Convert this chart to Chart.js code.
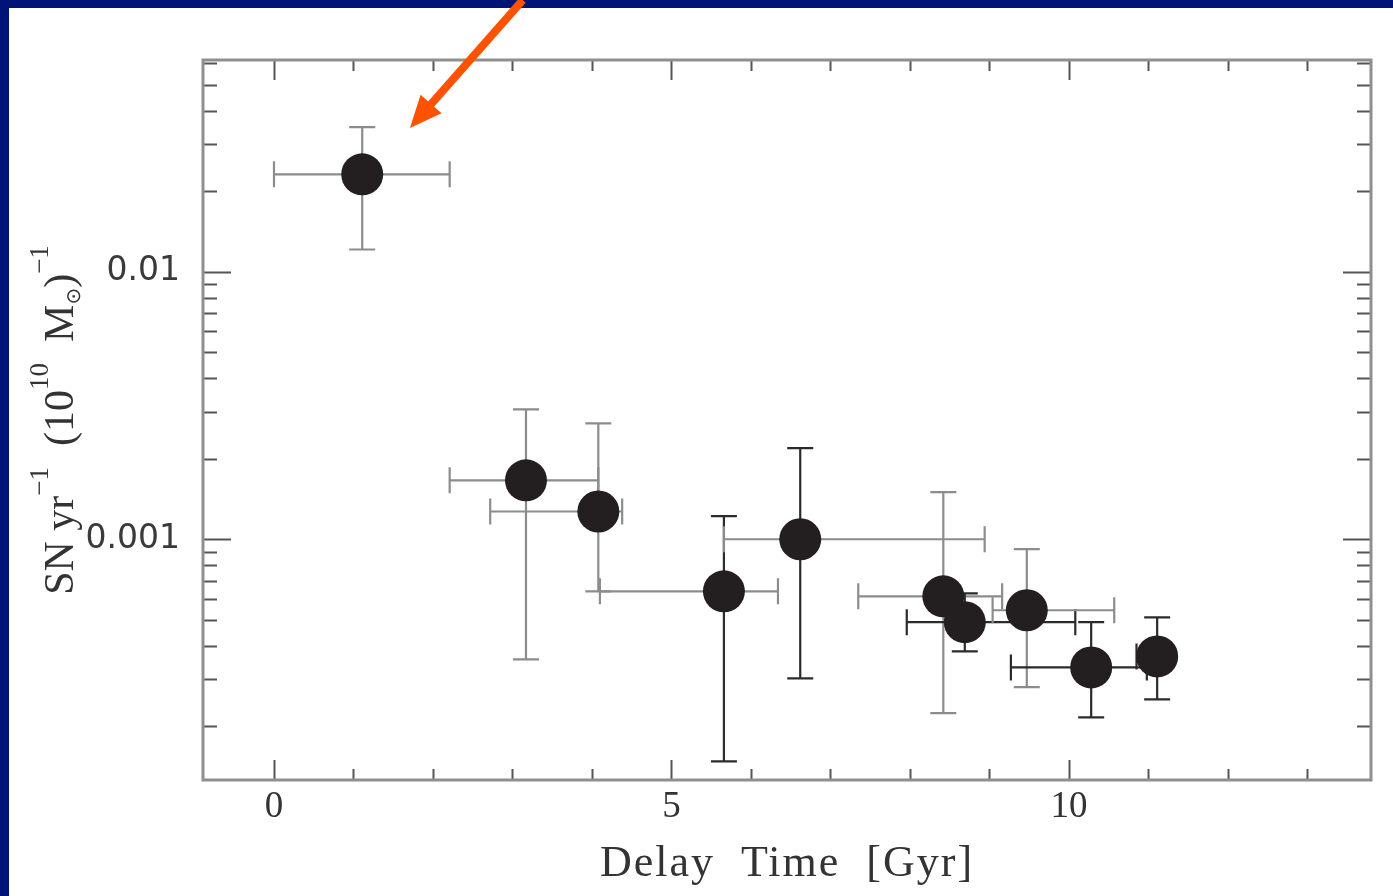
<!DOCTYPE html>
<html>
<head>
<meta charset="utf-8">
<script src="https://cdn.jsdelivr.net/npm/chart.js@4.4.1/dist/chart.umd.min.js"></script>
<style>
  html, body { margin: 0; padding: 0; background: #ffffff; overflow: hidden; }
  canvas { display: block; }
</style>
</head>
<body>
<canvas id="c" width="1393" height="896"></canvas>
<script>
// SN Ia rate per unit stellar mass against delay time, with asymmetric error bars
const delayTime = [1.11, 3.17, 4.08, 5.66, 6.62, 8.42, 8.69, 9.47, 10.28, 11.11];
const snRate    = [0.0231, 0.00166, 0.00127, 0.000639, 0.00100, 0.000612, 0.000490, 0.000543, 0.000332, 0.000365];
const timeLow   = [0.00, 2.21, 2.72, 4.10, 5.66, 7.35, 7.96, 9.04, 9.27, 10.85];
const timeHigh  = [2.21, 4.08, 4.38, 6.34, 8.94, 9.16, 10.08, 10.57, 10.98, 11.25];
const rateLow   = [0.0121, 0.000356, 0.000639, 0.000148, 0.000302, 0.000224, 0.000381, 0.000280, 0.000216, 0.000252];
const rateHigh  = [0.0347, 0.00306, 0.00271, 0.00122, 0.00219, 0.00150, 0.000628, 0.000918, 0.000490, 0.000511];

// axis ranges and tick labels
const xRange = [-0.893, 13.80];
const yRange = [0.000126, 0.0618];
const xTickLabels = ['0', '5', '10'];
const yTickLabels = ['0.001', '0.01'];

// axis titles; the y title is split into runs of normal, raised and lowered text
const xTitle = 'Delay Time [Gyr]';
const yTitleRuns = [
  ['SN', 0], [' ', 0], ['yr', 0], ['\u22121', 1], ['  ', 0],
  ['(10', 0], ['10', 1], ['  ', 0], ['M', 0], ['\u2299', -1], [')', 0], ['\u22121', 1]
];

// annotation arrow, in data units (tail, tip)
const arrowTail = [3.13, 0.1035];
const arrowTip  = [1.71, 0.0344];

// error bar shades (x bar, y bar) for each point
const GREY = '#8c8c8c', DARK = '#2b2b2b';
const xBarShade = [GREY, GREY, GREY, GREY, GREY, GREY, DARK, GREY, DARK, DARK];
const yBarShade = [GREY, GREY, GREY, DARK, DARK, GREY, DARK, GREY, DARK, DARK];

const points = delayTime.map((t, i) => ({ x: t, y: snRate[i] }));

function xTickValues() {
  const v = [];
  for (let k = Math.ceil(xRange[0]); k <= Math.floor(xRange[1]); k++) v.push(k);
  return v;
}
function yTickValues() {
  const v = [];
  for (let e = -5; e <= 0; e++) {
    for (let m = 1; m <= 9; m++) {
      const val = m * Math.pow(10, e);
      if (val >= yRange[0] && val <= yRange[1]) v.push(+val.toPrecision(3));
    }
  }
  return v;
}

const TITLE_COLOR = '#333333';
const RUN_FONT = {
  '0':  { font: '42px "Liberation Serif"', dy: 0 },
  '1':  { font: '27px "Liberation Serif"', dy: -25 },
  '-1': { font: '20px "DejaVu Sans"', dy: 7 }
};

const decorations = {
  id: 'decorations',
  beforeDraw(chart) {
    const { ctx, width, height } = chart;
    ctx.save();
    ctx.fillStyle = '#ffffff';
    ctx.fillRect(0, 0, width, height);
    ctx.fillStyle = '#001478';
    ctx.fillRect(0, 0, width, 8);
    ctx.fillRect(0, 0, 9, height);
    ctx.restore();
  },
  beforeDatasetsDraw(chart) {
    const { ctx, chartArea: a } = chart;
    const xs = chart.scales.x, ys = chart.scales.y;
    ctx.save();

    // inward tick marks on all four sides
    ctx.strokeStyle = '#555555';
    ctx.lineWidth = 2;
    xs.ticks.forEach(t => {
      const px = Math.round(xs.getPixelForValue(t.value)) + 0.5;
      const len = (t.value % 5 === 0) ? 20 : 11;
      ctx.beginPath();
      ctx.moveTo(px, a.bottom); ctx.lineTo(px, a.bottom - len);
      ctx.moveTo(px, a.top); ctx.lineTo(px, a.top + len);
      ctx.stroke();
    });
    ys.ticks.forEach(t => {
      const py = Math.round(ys.getPixelForValue(t.value)) + 0.5;
      const major = Math.abs(Math.log10(t.value) - Math.round(Math.log10(t.value))) < 1e-6;
      const len = major ? 28 : 14;
      ctx.beginPath();
      ctx.moveTo(a.left, py); ctx.lineTo(a.left + len, py);
      ctx.moveTo(a.right, py); ctx.lineTo(a.right - len, py);
      ctx.stroke();
    });

    // frame
    ctx.strokeStyle = '#8f8f8f';
    ctx.lineWidth = 3;
    ctx.strokeRect(a.left, a.top, a.right - a.left, a.bottom - a.top);

    // error bars
    const cap = 13;
    ctx.lineWidth = 2.2;
    delayTime.forEach((t, i) => {
      const px = xs.getPixelForValue(t);
      const py = ys.getPixelForValue(snRate[i]);
      const x0 = xs.getPixelForValue(timeLow[i]);
      const x1 = xs.getPixelForValue(timeHigh[i]);
      const y0 = ys.getPixelForValue(rateLow[i]);
      const y1 = ys.getPixelForValue(rateHigh[i]);
      ctx.strokeStyle = xBarShade[i];
      ctx.beginPath();
      ctx.moveTo(x0, py); ctx.lineTo(x1, py);
      ctx.moveTo(x0, py - cap); ctx.lineTo(x0, py + cap);
      ctx.moveTo(x1, py - cap); ctx.lineTo(x1, py + cap);
      ctx.stroke();
      ctx.strokeStyle = yBarShade[i];
      ctx.beginPath();
      ctx.moveTo(px, y0); ctx.lineTo(px, y1);
      ctx.moveTo(px - cap, y0); ctx.lineTo(px + cap, y0);
      ctx.moveTo(px - cap, y1); ctx.lineTo(px + cap, y1);
      ctx.stroke();
    });
    ctx.restore();
  },
  afterDraw(chart) {
    const { ctx, chartArea: a } = chart;
    const xs = chart.scales.x, ys = chart.scales.y;

    // x axis title
    ctx.save();
    ctx.fillStyle = TITLE_COLOR;
    ctx.font = '44px "Liberation Serif"';
    ctx.letterSpacing = '2px';
    ctx.textAlign = 'center';
    ctx.textBaseline = 'alphabetic';
    ctx.fillText(xTitle.replace(/ /g, '  '), (a.left + a.right) / 2, 876);
    ctx.restore();

    // y axis title, rotated, with raised and lowered runs
    ctx.save();
    ctx.fillStyle = TITLE_COLOR;
    ctx.textBaseline = 'alphabetic';
    ctx.textAlign = 'left';
    const widths = yTitleRuns.map(([s, k]) => { ctx.font = RUN_FONT[String(k)].font; return ctx.measureText(s).width; });
    const total = widths.reduce((p, w) => p + w, 0);
    ctx.translate(73, (a.top + a.bottom) / 2);
    ctx.rotate(-Math.PI / 2);
    let cx = -total / 2;
    yTitleRuns.forEach(([s, k], i) => {
      const f = RUN_FONT[String(k)];
      ctx.font = f.font;
      ctx.fillText(s, cx, f.dy);
      cx += widths[i];
    });
    ctx.restore();

    // annotation arrow
    const tx = xs.getPixelForValue(arrowTail[0]), ty = ys.getPixelForValue(arrowTail[1]);
    const hx = xs.getPixelForValue(arrowTip[0]),  hy = ys.getPixelForValue(arrowTip[1]);
    const ang = Math.atan2(hy - ty, hx - tx);
    const headLen = 32, headHalf = 14;
    const bx = hx - headLen * Math.cos(ang), by = hy - headLen * Math.sin(ang);
    ctx.save();
    ctx.strokeStyle = '#ff5200';
    ctx.fillStyle = '#ff5200';
    ctx.lineWidth = 8;
    ctx.beginPath();
    ctx.moveTo(tx, ty); ctx.lineTo(bx + 4 * Math.cos(ang), by + 4 * Math.sin(ang));
    ctx.stroke();
    ctx.beginPath();
    ctx.moveTo(hx, hy);
    ctx.lineTo(bx + headHalf * Math.sin(ang), by - headHalf * Math.cos(ang));
    ctx.lineTo(bx - headHalf * Math.sin(ang), by + headHalf * Math.cos(ang));
    ctx.closePath();
    ctx.fill();
    ctx.restore();
  }
};

new Chart(document.getElementById('c'), {
  type: 'scatter',
  data: {
    datasets: [{
      data: points,
      pointRadius: 21,
      pointHoverRadius: 21,
      pointBackgroundColor: '#231f20',
      pointBorderWidth: 0,
      showLine: false
    }]
  },
  options: {
    responsive: false,
    animation: false,
    devicePixelRatio: 1,
    layout: { padding: { top: 60, right: 22, bottom: 0, left: 0 } },
    plugins: { legend: { display: false }, tooltip: { enabled: false } },
    scales: {
      x: {
        type: 'linear',
        min: xRange[0],
        max: xRange[1],
        afterBuildTicks(scale) { scale.ticks = xTickValues().map(v => ({ value: v })); },
        afterFit(scale) { scale.height = 116; },
        grid: { display: false, drawTicks: false },
        border: { display: false },
        ticks: {
          autoSkip: false,
          maxRotation: 0,
          padding: 5,
          color: '#333333',
          font: { family: 'Liberation Serif', size: 37 },
          callback: v => (xTickLabels.includes(String(v)) ? String(v) : '')
        },
        title: { display: false }
      },
      y: {
        type: 'logarithmic',
        min: yRange[0],
        max: yRange[1],
        afterBuildTicks(scale) { scale.ticks = yTickValues().map(v => ({ value: v })); },
        afterFit(scale) { scale.width = 203; },
        grid: { display: false, drawTicks: false },
        border: { display: false },
        ticks: {
          autoSkip: false,
          padding: 23,
          color: '#3a3a3a',
          font: { family: 'DejaVu Sans', size: 33 },
          callback: v => {
            const s = String(+(+v).toPrecision(3));
            return yTickLabels.includes(s) ? s : '';
          }
        },
        title: { display: false }
      }
    }
  },
  plugins: [decorations]
});
</script>
</body>
</html>
